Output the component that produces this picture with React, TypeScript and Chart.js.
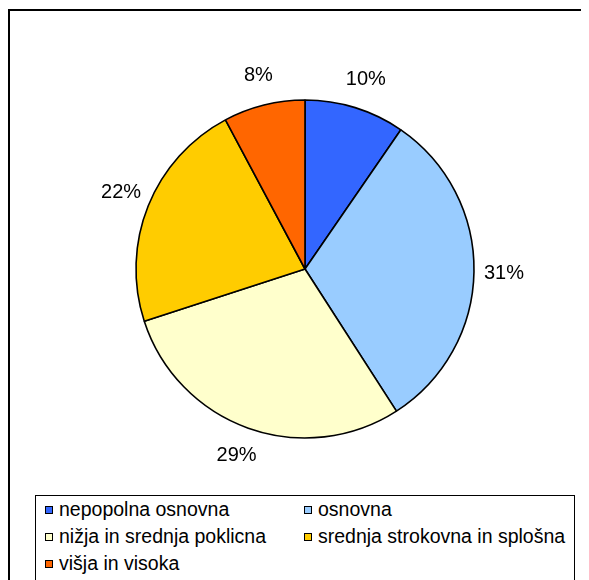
import React, { useEffect, useRef } from "react";
import { Chart, registerables } from "chart.js";

Chart.register(...registerables);

const categories = [
  "nepopolna osnovna",
  "osnovna",
  "nižja in srednja poklicna",
  "srednja strokovna in splošna",
  "višja in visoka",
];
const shares = [9.6, 31.3, 29.1, 22.2, 7.8];
const shareLabels = ["10%", "31%", "29%", "22%", "8%"];
const colors = ["#3366FF", "#99CCFF", "#FFFFCC", "#FFCC00", "#FF6600"];

const FONT = "'Liberation Sans', Arial, sans-serif";

const outsideLabels = {
  id: "outsideLabels",
  afterDatasetsDraw(chart: any) {
    const ctx = chart.ctx;
    const meta = chart.getDatasetMeta(0);
    ctx.save();
    ctx.font = `20px ${FONT}`;
    ctx.fillStyle = "#000";
    ctx.textAlign = "center";
    ctx.textBaseline = "middle";
    meta.data.forEach((arc: any, i: number) => {
      const p = arc.getProps(["x", "y", "startAngle", "endAngle", "outerRadius"], true);
      const mid = (p.startAngle + p.endAngle) / 2 + (0.5 * Math.PI) / 180;
      const r = p.outerRadius + 30;
      ctx.fillText(shareLabels[i], p.x + Math.cos(mid) * r, p.y + Math.sin(mid) * r);
    });
    ctx.restore();
  },
};

export default function App() {
  const ref = useRef<HTMLCanvasElement | null>(null);
  useEffect(() => {
    if (!ref.current) return;
    const chart = new Chart(ref.current, {
      type: "pie",
      data: {
        labels: categories,
        datasets: [
          {
            data: shares,
            backgroundColor: colors,
            borderColor: "#000",
            borderWidth: 1.6,
            radius: 169,
          } as any,
        ],
      },
      options: {
        animation: false,
        responsive: false,
        layout: { padding: { left: 126, right: 115, top: 89, bottom: 53 } },
        plugins: {
          legend: { display: false },
          tooltip: { enabled: false },
        },
      },
      plugins: [outsideLabels],
    });
    return () => chart.destroy();
  }, []);

  return (
    <div
      style={{
        position: "relative",
        marginTop: 1,
        width: 581,
        height: 571,
        boxSizing: "border-box",
        borderLeft: "2px solid #000",
        borderTop: "2px solid #000",
        overflow: "hidden",
        background: "#fff",
      }}
    >
      <canvas ref={ref} width={579} height={480} style={{ display: "block", position: "absolute", left: 0, top: 0 }} />
      <div
        style={{
          position: "absolute",
          left: 25,
          top: 484,
          width: 540,
          height: 100,
          boxSizing: "border-box",
          border: "1px solid #000",
          paddingTop: 0,
          paddingLeft: 9,
          display: "grid",
          gridTemplateColumns: "259px 1fr",
          gridAutoRows: "27px",
          fontFamily: FONT,
          fontSize: 19.5,
          color: "#000",
        }}
      >
        {categories.map((c, i) => (
          <div key={c} style={{ display: "flex", alignItems: "center", whiteSpace: "nowrap" }}>
            <span
              style={{
                display: "inline-block",
                width: 8,
                height: 8,
                boxSizing: "border-box",
                border: "1px solid #000",
                background: colors[i],
                marginRight: 6,
              }}
            />
            <span>{c}</span>
          </div>
        ))}
      </div>
    </div>
  );
}
